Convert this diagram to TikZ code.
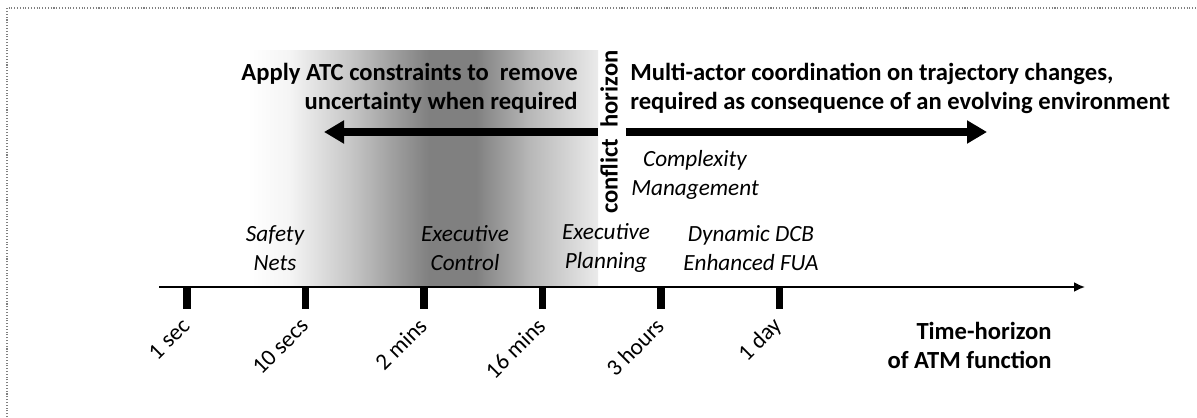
\documentclass[tikz,border=0pt]{standalone}
\usepackage{fontspec}
\setmainfont{Carlito}
\usetikzlibrary{arrows.meta}
\pgfdeclarehorizontalshading{ctrlshade}{100bp}{color(0bp)=(white); color(25bp)=(white); color(31bp)=(black!4); color(39.7bp)=(black!22); color(46.8bp)=(black!40); color(51bp)=(black!50); color(57.5bp)=(black!50); color(65.3bp)=(black!28); color(75bp)=(black!8); color(100bp)=(black!8)}

\begin{document}
\begin{tikzpicture}[
    lbl/.style={inner sep=0pt, font=\fontsize{13.2}{16.5}\selectfont},
    head/.style={lbl, font=\fontsize{14}{16.5}\selectfont\bfseries},
    func/.style={lbl, font=\fontsize{13.2}{16.5}\selectfont\itshape, align=center},
    ticklbl/.style={lbl, rotate=45, anchor=east},
    bigarrow/.style={line width=4pt, -{Triangle[length=0.4cm, width=0.44cm]}},
  ]
				% Bild: 23.94 x 8.34, 1px = 0.02cm
				\useasboundingbox (0,0) rectangle (23.94,8.34);
				\draw[gray, densely dotted, line width=0.6pt] (0.14,0) -- (0.14,8.18) -- (23.94,8.18);
				% Schattierung
				\shade[shading=ctrlshade] (4.94,2.6) rectangle (11.96,7.32);
				% Zeitachse
				\coordinate (ax0) at (3.18,2.6);
				\coordinate (ax1) at (21.7,2.6);
				\draw[line width=1.1pt, -{Latex[length=0.22cm, width=0.2cm]}] (ax0) -- (ax1);
				\foreach \lab [count=\i from 0] in {1 sec, 10 secs, 2 mins, 16 mins, 3 hours, 1 day} {
					\pgfmathsetmacro{\tx}{3.74+2.37*\i}
					\draw[line width=4pt] (\tx,2.6) -- (\tx,2.16);
					\node[ticklbl] (t\i) at (\tx-0.02,1.9) {\lab};
				}
				\node[head, anchor=east, align=right] (th) at (21.04,1.44) {Time-horizon\\of ATM function};
				% Funktionen
				\node[func] (sn) at (5.5,3.38) {Safety\\Nets};
				\node[func] (ec) at (9.3,3.38) {Executive\\Control};
				\node[func] (ep) at (12.12,3.38) {Executive\\Planning};
				\node[func] (dd) at (15.02,3.38) {Dynamic DCB\\Enhanced FUA};
				\node[func] (cm) at (13.9,4.84) {Complexity\\Management};
				% Konflikthorizont
				\node[head, rotate=90, inner sep=1pt] (ch) at (12.18,5.7) {conflict\ \ horizon};
				\coordinate (lt) at (6.48,5.7);
				\coordinate (rt) at (19.74,5.7);
				\draw[bigarrow] (ch.north) -- (lt);
				\draw[bigarrow, shorten <=0.12cm] (ch.south) -- (rt);
				\node[head, anchor=east, align=right] (atc) at (11.56,6.58) {Apply ATC constraints to\ \ remove\\uncertainty when required};
				\node[head, anchor=west, align=left] (mac) at (12.6,6.58) {Multi-actor coordination on trajectory changes,\\required as consequence of an evolving environment};
			\end{tikzpicture}
\end{document}
